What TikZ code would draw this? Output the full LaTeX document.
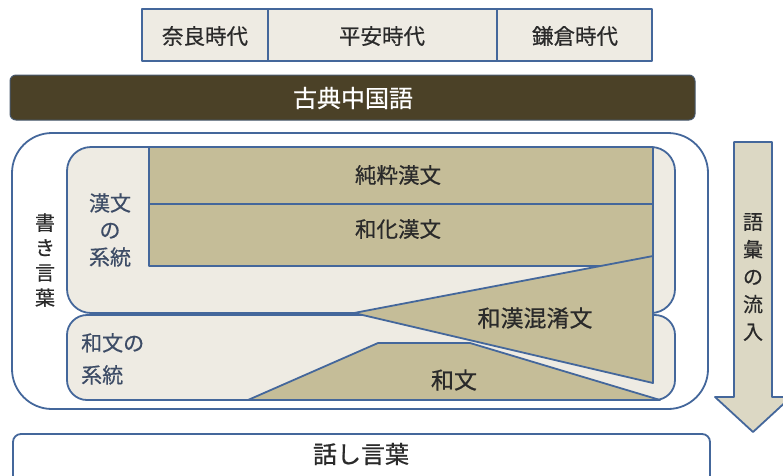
\documentclass[tikz,border=0pt]{standalone}
\usepackage{fontspec}
\setmainfont{Noto Sans CJK JP}[FakeBold=0.6,AutoFakeBold=0.6]
\definecolor{bblue}{HTML}{44679B}
\definecolor{beige}{HTML}{EEEBE3}
\definecolor{khaki}{HTML}{C5BD98}
\definecolor{darkol}{HTML}{4B4127}
\definecolor{arrowf}{HTML}{DCD8C4}
\definecolor{slate}{HTML}{3D4C66}
\definecolor{txt}{HTML}{2A2A2A}
\tikzset{
  ln/.style={draw=bblue, line width=1.8pt, line join=round},
  lbl/.style={text=txt, font=\bfseries\fontsize{21.5}{24}\selectfont, inner sep=0pt},
  slbl/.style={text=slate, font=\bfseries\fontsize{21}{27}\selectfont, inner sep=0pt, align=center},
}
\begin{document}
\begin{tikzpicture}[x=1pt,y=-1pt]
\useasboundingbox (0,0) rectangle (783,475);
\clip (0,0) rectangle (783,475);
% period boxes
\draw[ln, fill=beige] (142,9) rectangle (652,61);
\draw[ln] (268,9) -- (268,61);
\draw[ln] (497,9) -- (497,61);
\node[lbl] (nara) at (205,36) {奈良時代};
\node[lbl] (heian) at (382,36) {平安時代};
\node[lbl] (kama) at (575,36) {鎌倉時代};
% classical chinese bar
\draw[draw=bblue!60!darkol, line width=1pt, fill=darkol, rounded corners=6pt] (10,75) rectangle (695,120);
\node[text=white, font=\bfseries\fontsize{24}{26}\selectfont, inner sep=0pt] (koten) at (353,98) {古典中国語};
% outer written language box
\draw[ln, fill=white, rounded corners=40pt] (12,133) rectangle (708,409);
\node[slbl, text=txt, font=\bfseries\fontsize{20}{25}\selectfont] (kaki) at (45,260) {書\\き\\言\\葉};
% lower box (wabun)
\draw[ln, fill=beige, rounded corners=20pt] (67,315) rectangle (675,400);
\draw[ln, fill=khaki] (248,400) -- (378,343) -- (470,343) -- (660,400) -- cycle;
% upper box (kanbun)
\draw[ln, fill=beige, rounded corners=24pt] (67,147) rectangle (675,313);
\draw[ln, fill=khaki] (149,147) rectangle (653,204);
\draw[ln, fill=khaki] (149,204) rectangle (653,266);
% wakan konkou triangle
\draw[ln, fill=khaki] (354,313) -- (653,256) -- (653,383) -- cycle;
% labels
\node[lbl] (junsui) at (398,175) {純粋漢文};
\node[lbl] (waka) at (398,229) {和化漢文};
\node[lbl, font=\bfseries\fontsize{23}{24}\selectfont] (wakan) at (535,318) {和漢混淆文};
\node[lbl, font=\bfseries\fontsize{23}{24}\selectfont] (wabun) at (454,380) {和文};
\node[slbl] (kkei) at (110,230) {漢文\\の\\系統};
\node[slbl, align=left, anchor=north west, font=\bfseries\fontsize{21}{32}\selectfont] (wkei) at (81,333) {和文の\\系統};
% spoken language
\draw[ln, fill=white, rounded corners=8pt] (13,434) rectangle (710,495);
\node[lbl, font=\bfseries\fontsize{24}{26}\selectfont] (hanashi) at (361,454) {話し言葉};
% arrow
\draw[ln, fill=arrowf] (734,142) -- (772,142) -- (772,397) -- (791,397) -- (753,432) -- (715,397) -- (734,397) -- cycle;
\node[slbl, text=txt, font=\bfseries\fontsize{20}{27.5}\selectfont] (ryu) at (753,277) {語\\彙\\の\\流\\入};
\end{tikzpicture}
\end{document}
